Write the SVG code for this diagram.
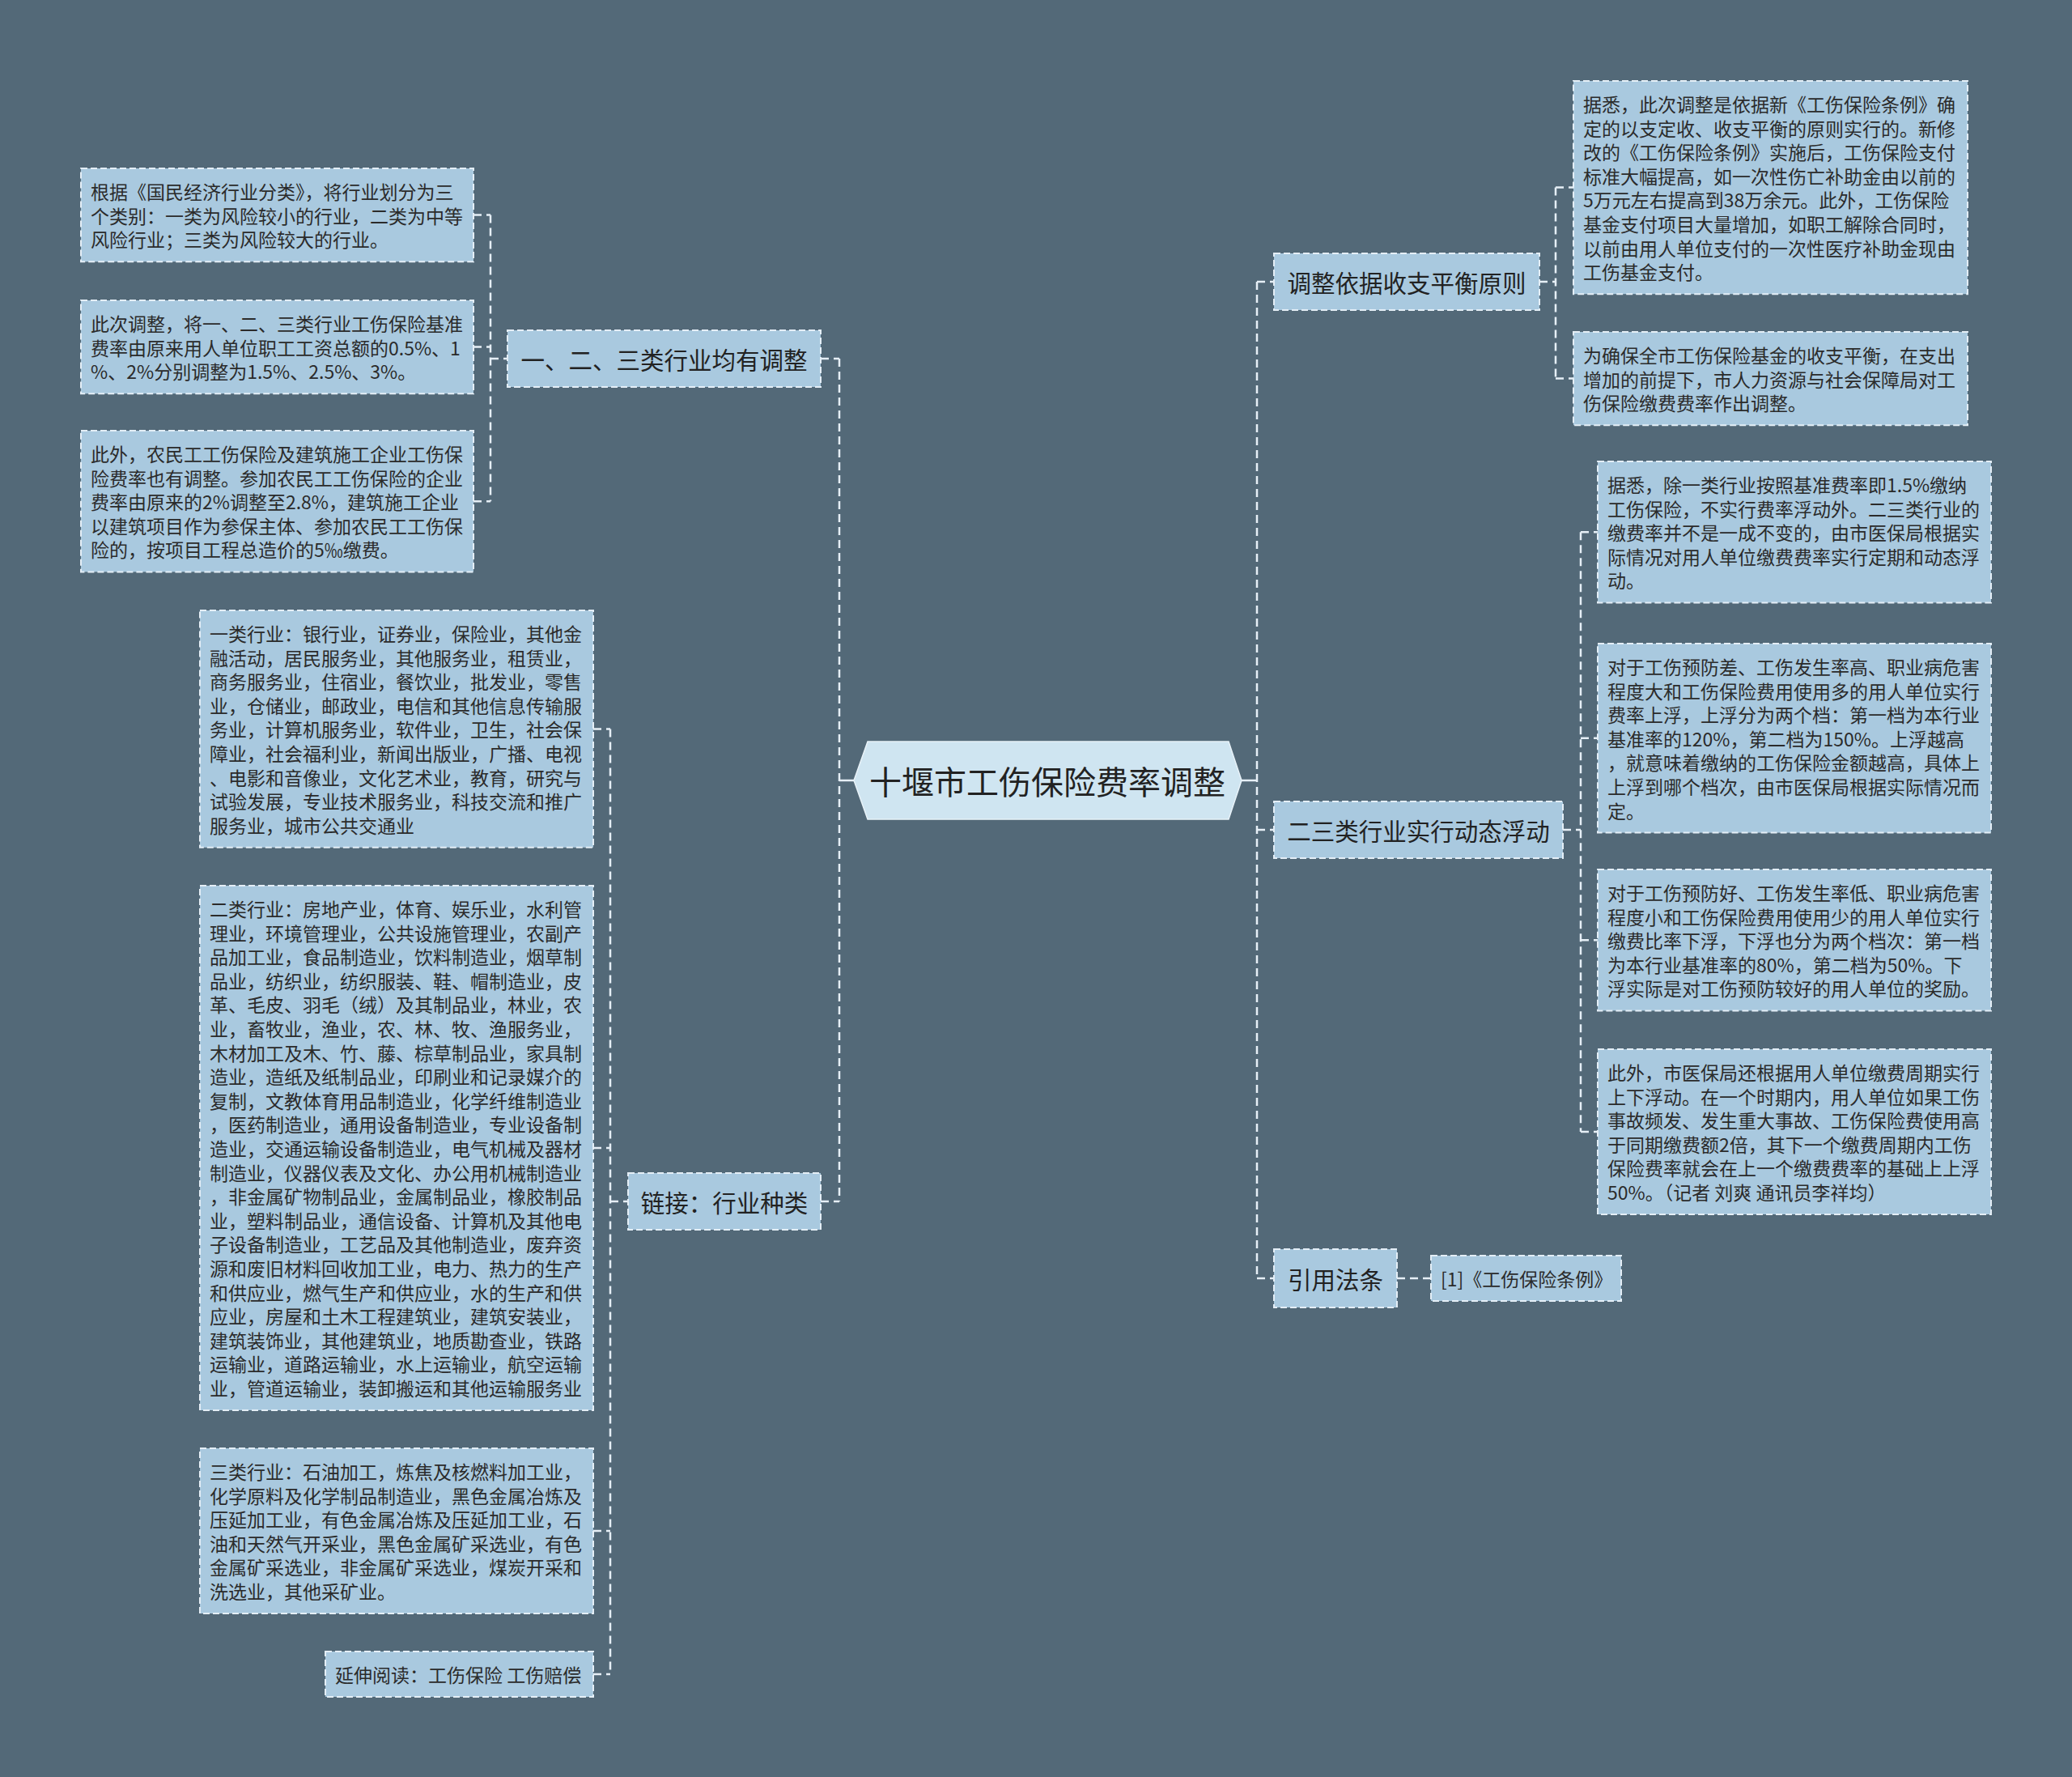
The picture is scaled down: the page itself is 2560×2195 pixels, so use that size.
<svg xmlns="http://www.w3.org/2000/svg" width="2560" height="2195" viewBox="0 0 2560 2195">
<style>
.bg{fill:#536978}
.leaf{fill:#a9c9df;stroke:#e4eef6;stroke-width:2;stroke-dasharray:8 4}
.br{fill:#a9c9df;stroke:#e4eef6;stroke-width:2;stroke-dasharray:8 4}
.root{fill:#cfe5f1;stroke:#e8f2f8;stroke-width:1.5}
.lt{font-family:"Noto Sans CJK SC","Noto Sans",sans-serif;font-size:23px;fill:#2b2b2b;dominant-baseline:central}
.bt{font-family:"Noto Sans CJK SC","Noto Sans",sans-serif;font-size:29.5px;fill:#222;dominant-baseline:central;text-anchor:middle}
.rt{font-family:"Noto Sans CJK SC","Noto Sans",sans-serif;font-size:40px;fill:#222;dominant-baseline:central;text-anchor:middle}
.c{fill:none;stroke:#e6eff6;stroke-width:2.5;stroke-dasharray:10 6}
.cs{fill:none;stroke:#e6eff6;stroke-width:2.5}
</style>
<rect class="bg" x="0" y="0" width="2560" height="2195"/>

<g id="connectors">
<path class="cs" d="M1037 964H1055M1534 964H1553"/>
<path class="c" d="M1037 443V1484M1014 443H1037M1014 1484H1037"/>
<path class="c" d="M606 265.6V619.2M585 265.6H606M585 428.6H606M585 619.2H606M606 443H627"/>
<path class="c" d="M754 900.4V2068M733 900.4H754M733 1418H754M733 1891H754M733 2068H754M754 1484H776"/>
<path class="c" d="M1553 348V1579M1553 348H1574M1553 1025H1574M1553 1579H1574"/>
<path class="c" d="M1922 231.6V467.6M1902 348H1922M1922 231.6H1944M1922 467.6H1944"/>
<path class="c" d="M1953 657.2V1398M1931 1025H1953M1953 657.2H1974M1953 911.8H1974M1953 1161.2H1974M1953 1398H1974"/>
<path class="c" d="M1726 1579H1768"/>
</g>

<g id="root">
<polygon class="root" points="1055,964 1072,916 1518,916 1534,964 1518,1012 1072,1012"/>
<text class="rt" x="1294" y="964">十堰市工伤保险费率调整</text>
</g>

<g id="branch-left-1">
<rect class="br" x="627" y="408" width="387" height="70"/>
<text class="bt" x="820.5" y="443">一、二、三类行业均有调整</text>
</g>
<g id="leaf-a1">
<rect class="leaf" x="100" y="208" width="485" height="115.2"/>
<text class="lt" x="112" y="236">根据《国民经济行业分类》，将行业划分为三</text>
<text class="lt" x="112" y="265.6">个类别：一类为风险较小的行业，二类为中等</text>
<text class="lt" x="112" y="295.2">风险行业；三类为风险较大的行业。</text>
</g>
<g id="leaf-a2">
<rect class="leaf" x="100" y="371" width="485" height="115.2"/>
<text class="lt" x="112" y="399">此次调整，将一、二、三类行业工伤保险基准</text>
<text class="lt" x="112" y="428.6">费率由原来用人单位职工工资总额的0.5%、1</text>
<text class="lt" x="112" y="458.2">%、2%分别调整为1.5%、2.5%、3%。</text>
</g>
<g id="leaf-a3">
<rect class="leaf" x="100" y="532" width="485" height="174.4"/>
<text class="lt" x="112" y="560">此外，农民工工伤保险及建筑施工企业工伤保</text>
<text class="lt" x="112" y="589.6">险费率也有调整。参加农民工工伤保险的企业</text>
<text class="lt" x="112" y="619.2">费率由原来的2%调整至2.8%，建筑施工企业</text>
<text class="lt" x="112" y="648.8">以建筑项目作为参保主体、参加农民工工伤保</text>
<text class="lt" x="112" y="678.4">险的，按项目工程总造价的5‰缴费。</text>
</g>

<g id="branch-left-2">
<rect class="br" x="776" y="1449" width="238" height="70"/>
<text class="bt" x="895" y="1484">链接：行业种类</text>
</g>
<g id="leaf-c1">
<rect class="leaf" x="247" y="754" width="486" height="292.8"/>
<text class="lt" x="259" y="782">一类行业：银行业，证券业，保险业，其他金</text>
<text class="lt" x="259" y="811.6">融活动，居民服务业，其他服务业，租赁业，</text>
<text class="lt" x="259" y="841.2">商务服务业，住宿业，餐饮业，批发业，零售</text>
<text class="lt" x="259" y="870.8">业，仓储业，邮政业，电信和其他信息传输服</text>
<text class="lt" x="259" y="900.4">务业，计算机服务业，软件业，卫生，社会保</text>
<text class="lt" x="259" y="930">障业，社会福利业，新闻出版业，广播、电视</text>
<text class="lt" x="259" y="959.6">、电影和音像业，文化艺术业，教育，研究与</text>
<text class="lt" x="259" y="989.2">试验发展，专业技术服务业，科技交流和推广</text>
<text class="lt" x="259" y="1018.8">服务业，城市公共交通业</text>
</g>
<g id="leaf-c2">
<rect class="leaf" x="247" y="1094" width="486" height="648"/>
<text class="lt" x="259" y="1122">二类行业：房地产业，体育、娱乐业，水利管</text>
<text class="lt" x="259" y="1151.6">理业，环境管理业，公共设施管理业，农副产</text>
<text class="lt" x="259" y="1181.2">品加工业，食品制造业，饮料制造业，烟草制</text>
<text class="lt" x="259" y="1210.8">品业，纺织业，纺织服装、鞋、帽制造业，皮</text>
<text class="lt" x="259" y="1240.4">革、毛皮、羽毛（绒）及其制品业，林业，农</text>
<text class="lt" x="259" y="1270">业，畜牧业，渔业，农、林、牧、渔服务业，</text>
<text class="lt" x="259" y="1299.6">木材加工及木、竹、藤、棕草制品业，家具制</text>
<text class="lt" x="259" y="1329.2">造业，造纸及纸制品业，印刷业和记录媒介的</text>
<text class="lt" x="259" y="1358.8">复制，文教体育用品制造业，化学纤维制造业</text>
<text class="lt" x="259" y="1388.4">，医药制造业，通用设备制造业，专业设备制</text>
<text class="lt" x="259" y="1418">造业，交通运输设备制造业，电气机械及器材</text>
<text class="lt" x="259" y="1447.6">制造业，仪器仪表及文化、办公用机械制造业</text>
<text class="lt" x="259" y="1477.2">，非金属矿物制品业，金属制品业，橡胶制品</text>
<text class="lt" x="259" y="1506.8">业，塑料制品业，通信设备、计算机及其他电</text>
<text class="lt" x="259" y="1536.4">子设备制造业，工艺品及其他制造业，废弃资</text>
<text class="lt" x="259" y="1566">源和废旧材料回收加工业，电力、热力的生产</text>
<text class="lt" x="259" y="1595.6">和供应业，燃气生产和供应业，水的生产和供</text>
<text class="lt" x="259" y="1625.2">应业，房屋和土木工程建筑业，建筑安装业，</text>
<text class="lt" x="259" y="1654.8">建筑装饰业，其他建筑业，地质勘查业，铁路</text>
<text class="lt" x="259" y="1684.4">运输业，道路运输业，水上运输业，航空运输</text>
<text class="lt" x="259" y="1714">业，管道运输业，装卸搬运和其他运输服务业</text>
</g>
<g id="leaf-c3">
<rect class="leaf" x="247" y="1789" width="486" height="204"/>
<text class="lt" x="259" y="1817">三类行业：石油加工，炼焦及核燃料加工业，</text>
<text class="lt" x="259" y="1846.6">化学原料及化学制品制造业，黑色金属冶炼及</text>
<text class="lt" x="259" y="1876.2">压延加工业，有色金属冶炼及压延加工业，石</text>
<text class="lt" x="259" y="1905.8">油和天然气开采业，黑色金属矿采选业，有色</text>
<text class="lt" x="259" y="1935.4">金属矿采选业，非金属矿采选业，煤炭开采和</text>
<text class="lt" x="259" y="1965">洗选业，其他采矿业。</text>
</g>
<g id="leaf-c4">
<rect class="leaf" x="402" y="2040" width="331" height="56"/>
<text class="lt" x="414" y="2068">延伸阅读：工伤保险 工伤赔偿</text>
</g>

<g id="branch-right-1">
<rect class="br" x="1574" y="313" width="328" height="70"/>
<text class="bt" x="1738" y="348">调整依据收支平衡原则</text>
</g>
<g id="leaf-d1">
<rect class="leaf" x="1944" y="100" width="487" height="263.2"/>
<text class="lt" x="1956" y="128">据悉，此次调整是依据新《工伤保险条例》确</text>
<text class="lt" x="1956" y="157.6">定的以支定收、收支平衡的原则实行的。新修</text>
<text class="lt" x="1956" y="187.2">改的《工伤保险条例》实施后，工伤保险支付</text>
<text class="lt" x="1956" y="216.8">标准大幅提高，如一次性伤亡补助金由以前的</text>
<text class="lt" x="1956" y="246.4">5万元左右提高到38万余元。此外，工伤保险</text>
<text class="lt" x="1956" y="276">基金支付项目大量增加，如职工解除合同时，</text>
<text class="lt" x="1956" y="305.6">以前由用人单位支付的一次性医疗补助金现由</text>
<text class="lt" x="1956" y="335.2">工伤基金支付。</text>
</g>
<g id="leaf-d2">
<rect class="leaf" x="1944" y="410" width="487" height="115.2"/>
<text class="lt" x="1956" y="438">为确保全市工伤保险基金的收支平衡，在支出</text>
<text class="lt" x="1956" y="467.6">增加的前提下，市人力资源与社会保障局对工</text>
<text class="lt" x="1956" y="497.2">伤保险缴费费率作出调整。</text>
</g>

<g id="branch-right-2">
<rect class="br" x="1574" y="990" width="357" height="70"/>
<text class="bt" x="1752.5" y="1025">二三类行业实行动态浮动</text>
</g>
<g id="leaf-e1">
<rect class="leaf" x="1974" y="570" width="486" height="174.4"/>
<text class="lt" x="1986" y="598">据悉，除一类行业按照基准费率即1.5%缴纳</text>
<text class="lt" x="1986" y="627.6">工伤保险，不实行费率浮动外。二三类行业的</text>
<text class="lt" x="1986" y="657.2">缴费率并不是一成不变的，由市医保局根据实</text>
<text class="lt" x="1986" y="686.8">际情况对用人单位缴费费率实行定期和动态浮</text>
<text class="lt" x="1986" y="716.4">动。</text>
</g>
<g id="leaf-e2">
<rect class="leaf" x="1974" y="795" width="486" height="233.6"/>
<text class="lt" x="1986" y="823">对于工伤预防差、工伤发生率高、职业病危害</text>
<text class="lt" x="1986" y="852.6">程度大和工伤保险费用使用多的用人单位实行</text>
<text class="lt" x="1986" y="882.2">费率上浮，上浮分为两个档：第一档为本行业</text>
<text class="lt" x="1986" y="911.8">基准率的120%，第二档为150%。上浮越高</text>
<text class="lt" x="1986" y="941.4">，就意味着缴纳的工伤保险金额越高，具体上</text>
<text class="lt" x="1986" y="971">上浮到哪个档次，由市医保局根据实际情况而</text>
<text class="lt" x="1986" y="1000.6">定。</text>
</g>
<g id="leaf-e3">
<rect class="leaf" x="1974" y="1074" width="486" height="174.4"/>
<text class="lt" x="1986" y="1102">对于工伤预防好、工伤发生率低、职业病危害</text>
<text class="lt" x="1986" y="1131.6">程度小和工伤保险费用使用少的用人单位实行</text>
<text class="lt" x="1986" y="1161.2">缴费比率下浮，下浮也分为两个档次：第一档</text>
<text class="lt" x="1986" y="1190.8">为本行业基准率的80%，第二档为50%。下</text>
<text class="lt" x="1986" y="1220.4">浮实际是对工伤预防较好的用人单位的奖励。</text>
</g>
<g id="leaf-e4">
<rect class="leaf" x="1974" y="1296" width="486" height="204"/>
<text class="lt" x="1986" y="1324">此外，市医保局还根据用人单位缴费周期实行</text>
<text class="lt" x="1986" y="1353.6">上下浮动。在一个时期内，用人单位如果工伤</text>
<text class="lt" x="1986" y="1383.2">事故频发、发生重大事故、工伤保险费使用高</text>
<text class="lt" x="1986" y="1412.8">于同期缴费额2倍，其下一个缴费周期内工伤</text>
<text class="lt" x="1986" y="1442.4">保险费率就会在上一个缴费费率的基础上上浮</text>
<text class="lt" x="1986" y="1472">50%。（记者 刘爽 通讯员李祥均）</text>
</g>

<g id="branch-right-3">
<rect class="br" x="1574" y="1543" width="152" height="72"/>
<text class="bt" x="1650" y="1579">引用法条</text>
</g>
<g id="leaf-f1">
<rect class="leaf" x="1768" y="1551" width="235" height="56"/>
<text class="lt" x="1780" y="1579">[1]《工伤保险条例》</text>
</g>
</svg>
